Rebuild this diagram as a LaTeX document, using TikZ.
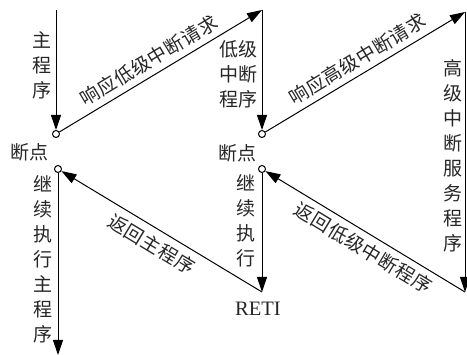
\documentclass[tikz,border=0pt]{standalone}
\usepackage{fontspec}
\setmainfont{Liberation Serif}
\newfontfamily\cjk{Noto Sans CJK SC}
\usetikzlibrary{arrows.meta}
\tikzset{
  arr/.style={line width=1pt,-{Triangle[length=15pt,width=10pt]}},
  dot/.style={circle,draw,line width=1pt,fill=white,inner sep=0pt,minimum size=7pt},
  lbl/.style={font=\cjk\fontsize{19}{25}\selectfont,align=center,inner sep=0pt,text=black!85},
  slbl/.style={font=\cjk\fontsize{19}{25}\selectfont\addfontfeature{LetterSpace=3},inner sep=0pt,text=black!85},
}
\begin{document}
\begin{tikzpicture}[x=1pt,y=-1pt]
\useasboundingbox (0,0) rectangle (467,355);
% points
\coordinate (t1) at (56,10);
\node[dot] (c1) at (56,134) {};
\coordinate (t2) at (262,10);
\node[dot] (c2) at (262,134) {};
\coordinate (t3) at (465,12);
\coordinate (b3) at (465,292);
\node[dot] (d1) at (58,169) {};
\coordinate (e1) at (58,355);
\node[dot] (d2) at (262,169) {};
\coordinate (b2) at (262,292);
% connectors
\draw[arr] (t1) -- (c1);
\draw[arr] (c1) -- (t2);
\draw[arr] (t2) -- (c2);
\draw[arr] (c2) -- (t3);
\draw[arr] (t3) -- (b3);
\draw[arr] (b3) -- (d2);
\draw[arr] (d1) -- (e1);
\draw[arr] (d2) -- (b2);
\draw[arr] (b2) -- (d1);
% sloped labels
\path (c1) -- (t2) node[slbl,pos=0.48,sloped,yshift=15pt] (r1) {响应低级中断请求};
\path (c2) -- (t3) node[slbl,pos=0.50,sloped,yshift=15pt] (r2) {响应高级中断请求};
\path (d1) -- (b2) node[slbl,pos=0.49,sloped,yshift=-16pt] (r3) {返回主程序};
\path (d2) -- (b3) node[slbl,pos=0.53,sloped,yshift=-15pt] (r4) {返回低级中断程序};
% vertical labels
\node[lbl] (m1) at (42,65) {主\\程\\序};
\node[lbl] (bp1) at (30,152) {断点};
\node[lbl] (low) at (238,74) {低级\\中断\\程序};
\node[lbl] (bp2) at (237,153) {断点};
\node[lbl] (high) at (453,156) {高\\级\\中\\断\\服\\务\\程\\序};
\node[lbl] (cont1) at (43,259) {继\\续\\执\\行\\主\\程\\序};
\node[lbl] (cont2) at (246,221) {继\\续\\执\\行};
\node[font=\fontsize{20.5}{22}\selectfont,inner sep=0pt,text=black!85] (reti) at (258,309) {RETI};
\end{tikzpicture}
\end{document}
